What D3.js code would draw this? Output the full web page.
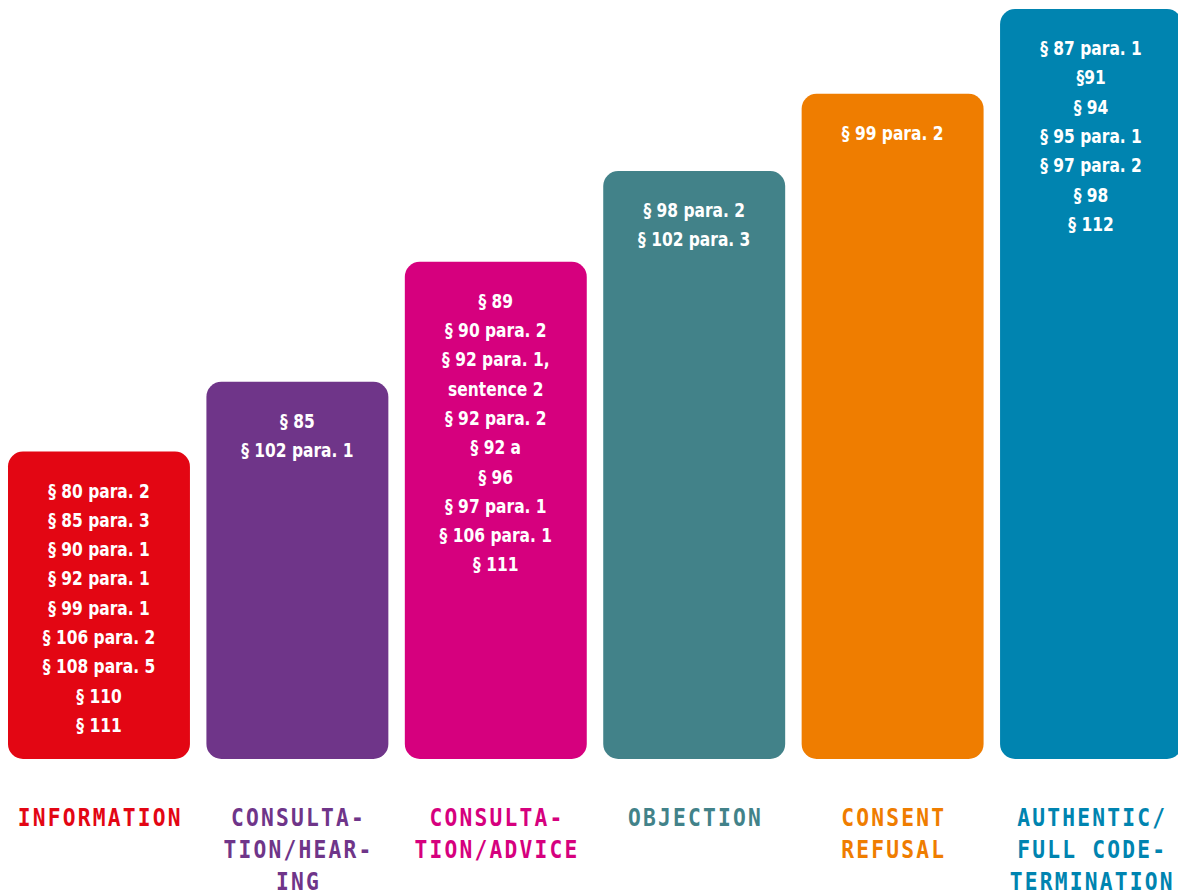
<!DOCTYPE html>
<html>
<head>
<meta charset="utf-8">
<script src="https://cdn.jsdelivr.net/npm/d3@7"></script>
<style>
  body { margin: 0; background: #fff; }
</style>
</head>
<body>
<div id="chart"></div>
<script>
// categories, relative strength of participation (tallest = 100), colours
const categories = ["information", "hearing", "advice", "objection", "consent", "codetermination"];
const strength = [41, 50.3, 66.3, 78.4, 88.7, 100];
const colors = ["#E30613", "#6F3589", "#D6007E", "#428289", "#EF7D00", "#0084B0"];

const labels = [
  ["INFORMATION"],
  ["CONSULTA-", "TION/HEAR-", "ING"],
  ["CONSULTA-", "TION/ADVICE"],
  ["OBJECTION"],
  ["CONSENT", "REFUSAL"],
  ["AUTHENTIC/", "FULL CODE-", "TERMINATION"]
];

const sections = [
  ["§ 80 para. 2", "§ 85 para. 3", "§ 90 para. 1", "§ 92 para. 1", "§ 99 para. 1", "§ 106 para. 2", "§ 108 para. 5", "§ 110", "§ 111"],
  ["§ 85", "§ 102 para. 1"],
  ["§ 89", "§ 90 para. 2", "§ 92 para. 1,", "sentence 2", "§ 92 para. 2", "§ 92 a", "§ 96", "§ 97 para. 1", "§ 106 para. 1", "§ 111"],
  ["§ 98 para. 2", "§ 102 para. 3"],
  ["§ 99 para. 2"],
  ["§ 87 para. 1", "§91", "§ 94", "§ 95 para. 1", "§ 97 para. 2", "§ 98", "§ 112"]
];

const data = categories.map((c, i) => ({
  key: c, value: strength[i], color: colors[i], label: labels[i], items: sections[i]
}));

const width = 1178, height = 894;
const baseY = 759;

const svg = d3.select("#chart")
  .append("svg")
  .attr("width", width)
  .attr("height", height);

const x = d3.scaleBand()
  .domain(categories)
  .range([8, 1182])
  .paddingInner(0.083);

const y = d3.scaleLinear()
  .domain([0, 100])
  .range([baseY, 9]);

const g = svg.selectAll("g.bar")
  .data(data)
  .enter()
  .append("g")
  .attr("class", "bar");

g.append("rect")
  .attr("x", d => x(d.key))
  .attr("y", d => y(d.value))
  .attr("width", x.bandwidth())
  .attr("height", d => baseY - y(d.value))
  .attr("rx", 15)
  .attr("fill", d => d.color);

// paragraph references inside the bars (squeezed to look condensed)
g.each(function(d) {
  const cx = x(d.key) + x.bandwidth() / 2;
  d3.select(this).selectAll("text.item")
    .data(d.items)
    .enter()
    .append("text")
    .attr("class", "item")
    .attr("transform", (t, j) => `translate(${cx},${y(d.value) + 46 + j * 29.3}) scale(0.86,1)`)
    .attr("text-anchor", "middle")
    .attr("fill", "#fff")
    .attr("font-family", "'DejaVu Sans Condensed', 'Liberation Sans Narrow', sans-serif")
    .attr("font-weight", "bold")
    .attr("font-size", 20)
    .text(t => t);
});

// category labels under the bars
g.each(function(d) {
  const cx = x(d.key) + x.bandwidth() / 2;
  d3.select(this).selectAll("text.label")
    .data(d.label)
    .enter()
    .append("text")
    .attr("class", "label")
    .attr("transform", (t, j) => `translate(${cx + 1.2},${826 + j * 32}) scale(0.85,1)`)
    .attr("text-anchor", "middle")
    .attr("fill", d.color)
    .attr("font-family", "'DejaVu Sans Mono', monospace")
    .attr("font-weight", "bold")
    .attr("font-size", 25)
    .attr("letter-spacing", 2.6)
    .text(t => t);
});
</script>
</body>
</html>
